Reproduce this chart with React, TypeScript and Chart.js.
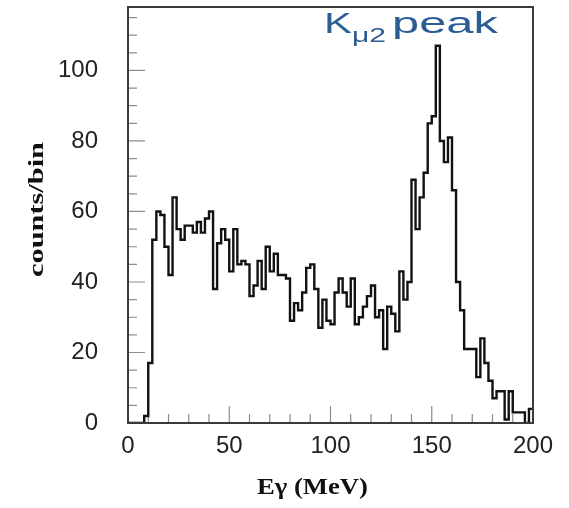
import React, { useEffect, useRef } from 'react';
import { Chart, registerables } from 'chart.js';

Chart.register(...registerables);

// ---- data ----
const BIN_START = 0;
const BIN_WIDTH = 2; // MeV per bin
const counts = [
  0, 0, 0, 0, 2, 17, 52, 60, 59, 50,
  42, 64, 55, 52, 56, 56, 54, 57, 54, 58,
  60, 38, 51, 55, 52, 43, 55, 45, 46, 45,
  36, 39, 46, 38, 50, 43, 48, 42, 42, 41,
  29, 34, 32, 37, 44, 45, 38, 27, 35, 29,
  28, 37, 41, 37, 33, 41, 28, 30, 33, 36,
  39, 30, 32, 21, 33, 31, 26, 43, 35, 40,
  69, 55, 64, 71, 85, 87, 107, 80, 74, 81,
  66, 40, 32, 21, 21, 21, 13, 24, 17, 12,
  7, 9, 9, 1, 9, 3, 3, 3, 0, 4,
];
const xTickLabels = [0, 50, 100, 150, 200];
const yTickLabels = [0, 20, 40, 60, 80, 100];
const xMinorStep = 10;
const yMinorStep = 5;
const xTitle = 'Eγ (MeV)';
const yTitle = 'counts/bin';
const noteMain = 'K';
const noteSub = 'μ2';
const noteTail = 'peak';

const X_MIN = 0;
const X_MAX = 200;
const Y_MIN = 0;
const Y_MAX = 118;

function drawScaledText(
  ctx: CanvasRenderingContext2D,
  text: string,
  x: number,
  y: number,
  font: string,
  targetWidth: number,
  align: CanvasTextAlign,
) {
  ctx.save();
  ctx.font = font;
  const w = ctx.measureText(text).width;
  const sx = targetWidth / w;
  ctx.translate(x, y);
  ctx.scale(sx, 1);
  ctx.textAlign = align;
  ctx.textBaseline = 'alphabetic';
  ctx.fillText(text, 0, 0);
  ctx.restore();
}

const decorPlugin = {
  id: 'decor',
  beforeDatasetsDraw(chart: any) {
    const { ctx, chartArea: a, scales } = chart;
    const xs = scales.x;
    const ys = scales.y;
    ctx.save();
    ctx.strokeStyle = '#8c8c8c';
    ctx.lineWidth = 1.2;
    ctx.beginPath();
    for (let v = X_MIN; v <= X_MAX; v += xMinorStep) {
      const px = xs.getPixelForValue(v);
      const len = v % 50 === 0 ? 17 : 9;
      ctx.moveTo(px, a.bottom);
      ctx.lineTo(px, a.bottom - len);
    }
    for (let v = Y_MIN; v <= Y_MAX; v += yMinorStep) {
      const py = ys.getPixelForValue(v);
      const len = v % 20 === 0 ? 17 : 9;
      ctx.moveTo(a.left, py);
      ctx.lineTo(a.left + len, py);
    }
    ctx.stroke();
    ctx.restore();
  },
  afterDatasetsDraw(chart: any) {
    const { ctx, chartArea: a } = chart;
    ctx.save();
    // frame
    ctx.strokeStyle = '#3a3a3a';
    ctx.lineWidth = 2;
    ctx.strokeRect(a.left, a.top, a.right - a.left, a.bottom - a.top);

    // axis titles
    ctx.fillStyle = '#111';
    drawScaledText(ctx, xTitle, 312.5, 494, 'bold 23px "Liberation Serif"', 111, 'center');

    ctx.save();
    ctx.translate(43, 209.5);
    ctx.rotate(-Math.PI / 2);
    drawScaledText(ctx, yTitle, 0, 0, 'bold 22px "Liberation Serif"', 135, 'center');
    ctx.restore();

    // annotation
    ctx.fillStyle = '#2b5c94';
    drawScaledText(ctx, noteMain, 324, 33, '30px "Liberation Sans"', 28, 'left');
    drawScaledText(ctx, noteSub, 352, 42, '20px "Liberation Sans"', 34, 'left');
    drawScaledText(ctx, noteTail, 392, 33, '30px "Liberation Sans"', 106, 'left');
    ctx.restore();
  },
};

export default function App() {
  const ref = useRef<HTMLCanvasElement | null>(null);

  useEffect(() => {
    if (!ref.current) return;
    const edges = counts.map((_, i) => BIN_START + i * BIN_WIDTH);
    const points = counts.map((c, i) => ({ x: edges[i], y: c }));
    points.push({ x: BIN_START + counts.length * BIN_WIDTH, y: counts[counts.length - 1] });

    const chart = new Chart(ref.current, {
      type: 'line',
      data: {
        datasets: [
          {
            data: points,
            stepped: 'before',
            borderColor: '#111',
            borderWidth: 2.4,
            pointRadius: 0,
            fill: false,
            borderJoinStyle: 'miter',
            borderCapStyle: 'butt',
          } as any,
        ],
      },
      options: {
        responsive: false,
        animation: false,
        layout: { padding: { left: 0, top: 7, right: 36, bottom: 0 } },
        plugins: {
          legend: { display: false },
          tooltip: { enabled: false },
        },
        scales: {
          x: {
            type: 'linear',
            min: X_MIN,
            max: X_MAX,
            grid: { display: false },
            border: { display: false },
            afterBuildTicks: (scale: any) => {
              scale.ticks = xTickLabels.map((v) => ({ value: v }));
            },
            afterFit: (scale: any) => {
              scale.height = 85;
              scale.paddingLeft = 0;
              scale.paddingRight = 0;
            },
            ticks: {
              autoSkip: false,
              maxRotation: 0,
              padding: 1,
              color: '#222',
              font: { family: '"Liberation Sans", Arial, sans-serif', size: 24 },
            },
          },
          y: {
            type: 'linear',
            min: Y_MIN,
            max: Y_MAX,
            grid: { display: false },
            border: { display: false },
            afterBuildTicks: (scale: any) => {
              scale.ticks = yTickLabels.map((v) => ({ value: v }));
            },
            afterFit: (scale: any) => {
              scale.width = 128;
              scale.paddingTop = 0;
              scale.paddingBottom = 0;
            },
            ticks: {
              autoSkip: false,
              padding: 22,
              color: '#222',
              font: { family: '"Liberation Sans", Arial, sans-serif', size: 24 },
            },
          },
        },
      },
      plugins: [decorPlugin],
    });
    return () => chart.destroy();
  }, []);

  return (
    <div style={{ position: 'fixed', left: 0, top: 0, width: 569, height: 508, background: '#fff' }}>
      <canvas ref={ref} width={569} height={508} style={{ display: 'block' }} />
    </div>
  );
}
